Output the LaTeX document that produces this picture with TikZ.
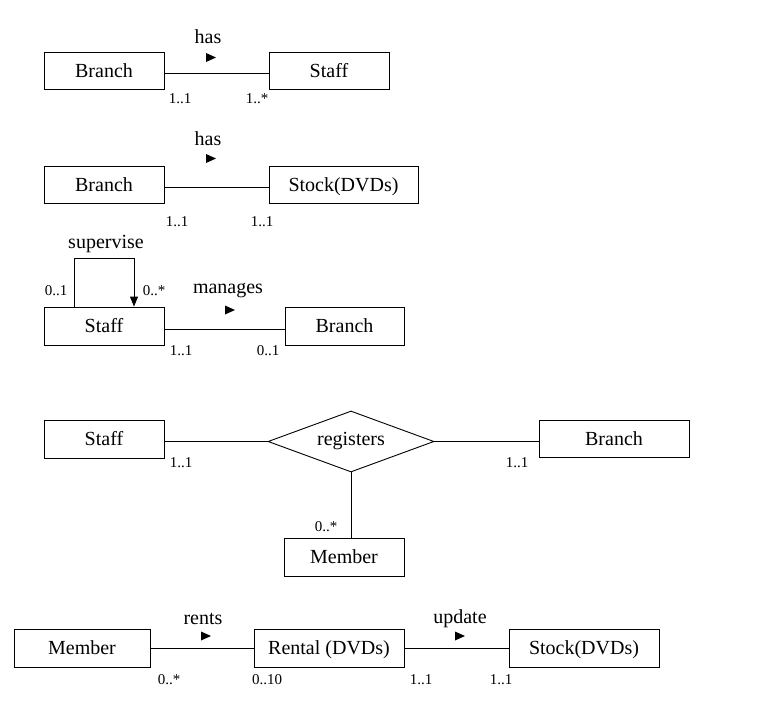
\documentclass[tikz,border=0pt]{standalone}
\usepackage{fontspec}
\setmainfont{Liberation Serif}
\usetikzlibrary{shapes.geometric,arrows.meta}
\begin{document}
\begin{tikzpicture}[x=1pt,y=-1pt, line width=0.9pt,
  ent/.style={draw, minimum height=37pt, inner sep=0pt, text height=13pt, text depth=0pt, font=\fontsize{20}{23}\selectfont},
  mult/.style={font=\fontsize{15}{17}\selectfont, inner sep=0pt},
  lbl/.style={font=\fontsize{20}{23}\selectfont, inner sep=0pt},
  dirmark/.style={fill=black, draw=none}]
\useasboundingbox (0,0) rectangle (763,704);

% Row 1
\node[ent, minimum width=120pt] (b1) at (104,70.5) {Branch};
\node[ent, minimum width=120pt] (s1) at (329,70.5) {Staff};
\draw ([yshift=-2.5pt]b1.east) -- ([yshift=-2.5pt]s1.west);
\node[lbl] (has1) at (208,37) {has};
\fill[dirmark] (206,53) -- (216,57.5) -- (206,62) -- cycle;
\node[mult] (m1a) at (180,99) {1..1};
\node[mult] (m1b) at (257,99) {1..*};

% Row 2
\node[ent, minimum width=120pt] (b2) at (104,184.5) {Branch};
\node[ent, minimum width=149pt] (st2) at (343.5,184.5) {Stock(DVDs)};
\draw ([yshift=-2.5pt]b2.east) -- ([yshift=-2.5pt]st2.west);
\node[lbl] (has2) at (208,139) {has};
\fill[dirmark] (206,154) -- (216,158.5) -- (206,163) -- cycle;
\node[mult] (m2a) at (177,222) {1..1};
\node[mult] (m2b) at (262,222) {1..1};

% Row 3
\node[ent, minimum width=120pt, minimum height=38pt] (s3) at (104,326) {Staff};
\node[ent, minimum width=119pt, minimum height=38pt] (b3) at (344.5,326) {Branch};
\draw ([yshift=-3pt]s3.east) -- ([yshift=-3pt]b3.west);
\coordinate (sv1) at (74,258);
\coordinate (sv2) at (134,258);
\draw (s3.north -| sv1) -- (sv1) -- (sv2);
\draw[-{Triangle[length=10pt,width=8pt]}] (sv2) -- (s3.north -| sv2);
\node[lbl] (sup) at (106,244) {supervise};
\node[mult] (m3c) at (56,291) {0..1};
\node[mult] (m3d) at (154,291) {0..*};
\node[lbl] (man) at (228,291) {manages};
\fill[dirmark] (225,305.5) -- (235,310) -- (225,314.5) -- cycle;
\node[mult] (m3a) at (181,351) {1..1};
\node[mult] (m3b) at (268,351) {0..1};

% Row 4
\node[ent, minimum width=120pt, minimum height=38pt] (s4) at (104,439) {Staff};
\node[draw, diamond, aspect=2.72, minimum width=166pt, minimum height=61pt, inner sep=0pt,
      font=\fontsize{20}{23}\selectfont] (d4) at (351,441.5) {registers};
\node[ent, minimum width=150pt] (br4) at (614,438.5) {Branch};
\node[ent, minimum width=120pt, minimum height=38pt] (mb4) at (344,557) {Member};
\draw (s4.east |- d4.west) -- (d4.west);
\draw (d4.east) -- (br4.west |- d4.east);
\draw (d4.south) -- (mb4.north -| d4.south);
\node[mult] (m4a) at (181,463) {1..1};
\node[mult] (m4b) at (517,463) {1..1};
\node[mult] (m4c) at (326,527) {0..*};

% Row 5
\node[ent, minimum width=136pt, minimum height=38pt] (mb5) at (82,648) {Member};
\node[ent, minimum width=150pt, minimum height=38pt] (r5) at (329,648) {Rental (DVDs)};
\node[ent, minimum width=150pt, minimum height=38pt] (st5) at (584,648) {Stock(DVDs)};
\draw (mb5.east) -- (r5.west);
\draw (r5.east) -- (st5.west);
\node[lbl] (rents) at (203,619) {rents};
\fill[dirmark] (201,631.5) -- (211,636) -- (201,640.5) -- cycle;
\node[lbl] (upd) at (460,619) {update};
\fill[dirmark] (455,631.5) -- (465,636) -- (455,640.5) -- cycle;
\node[mult] (m5a) at (169,680) {0..*};
\node[mult] (m5b) at (267,680) {0..10};
\node[mult] (m5c) at (421,680) {1..1};
\node[mult] (m5d) at (501,680) {1..1};
\end{tikzpicture}
\end{document}
